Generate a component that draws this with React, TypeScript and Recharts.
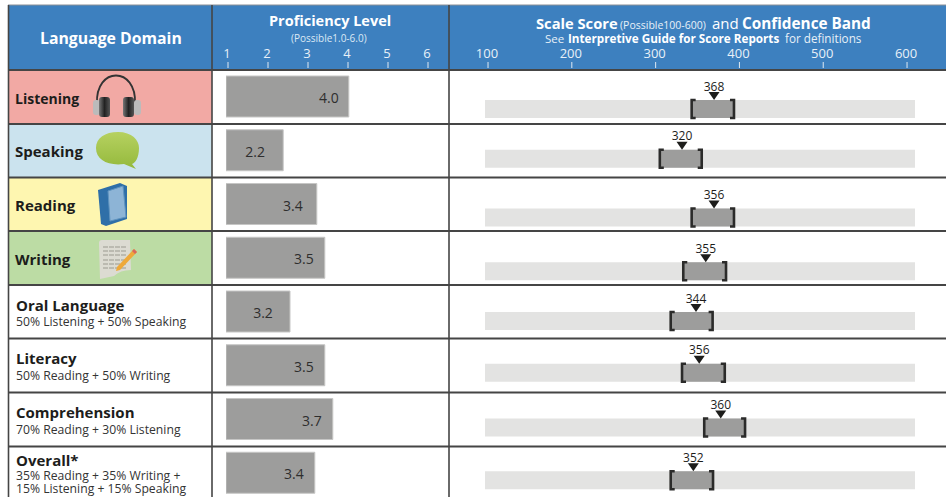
import React from "react";
import { BarChart, Bar, XAxis, YAxis, LabelList } from "recharts";

const domains = ["Listening", "Speaking", "Reading", "Writing", "Oral Language", "Literacy", "Comprehension", "Overall*"];
// printed numbers
const levelLabels = ["4.0", "2.2", "3.4", "3.5", "3.2", "3.5", "3.7", "3.4"];
const scoreLabels = [368, 320, 356, 355, 344, 356, 360, 352];
// where the marks actually sit on the axes (they don't always agree with the print)
const levelBars = [4.02, 2.38, 3.22, 3.42, 2.55, 3.42, 3.62, 3.17];
const scoreMarks = [369.7, 331.5, 369.7, 359.8, 348.2, 352, 377.7, 345];
const bandLow = [343, 305, 343, 333, 318, 331.5, 358, 318];
const bandHigh = [393.5, 355, 393.5, 384, 368, 382.5, 406.7, 368.5];

const levelTicks = [1, 2, 3, 4, 5, 6];
const scoreTicks = [100, 200, 300, 400, 500, 600];
const levelDomain = [0.95, 6];
const scoreDomain = [96.4, 609.5];

const rows = domains.map((domain, i) => ({
  domain,
  level: levelBars[i],
  levelLabel: levelLabels[i],
  track: scoreDomain,
  band: [bandLow[i], bandHigh[i]],
  mark: scoreMarks[i],
  score: scoreLabels[i],
}));

const COLORS = {
  header: "#3d80bf",
  rule: "#454545",
  bar: "#9d9d9c",
  track: "#e3e3e2",
  ink: "#1d1d1b",
};
const FONT = "'Open Sans', sans-serif";

// the score strip sits low in its row, by a slightly different amount each time
const TRACK_NUDGE = [12, 8, 13, 13, 9, 7, 8, 7];
// distance of the printed level from the end of its bar
const LABEL_INSET = [20, 28, 24, 21, 27, 21, 21, 21];
const ROW_EDGES = [70, 124, 177.5, 231, 285, 338.5, 392.5, 446.5];
const ROW_FILLS = ["#f2a9a4", "#cbe3ee", "#fef6b0", "#bcdca4"];

function AxisTick({ x, payload }: any) {
  return (
    <g>
      <text x={x - 1} y={58} textAnchor="middle" fill="#e8f0f8" fontSize={13} fontFamily={FONT}>
        {payload.value}
      </text>
      <line x1={x} x2={x} y1={62} y2={68} stroke="#dfe9f3" strokeWidth={1} />
    </g>
  );
}

function LevelLabel({ x, y, width, height, index, value }: any) {
  return (
    <text
      x={x + width - LABEL_INSET[index]}
      y={y + height / 2 + 6.5}
      textAnchor="middle"
      fontSize={14}
      fontFamily={FONT}
      fill="#2e2e2e"
    >
      {value}
    </text>
  );
}

function TrackShape({ x, y, width, height, index }: any) {
  return <rect x={x} y={y + TRACK_NUDGE[index]} width={width} height={height} fill={COLORS.track} />;
}

function BandShape({ x, y, width, height, index }: any) {
  const top = y + TRACK_NUDGE[index];
  const bottom = top + height;
  const right = x + width;
  return (
    <g>
      <rect x={x} y={top} width={width} height={height} fill={COLORS.bar} />
      <path
        d={`M${x + 4} ${top}H${x}V${bottom}H${x + 4}M${right - 4} ${top}H${right}V${bottom}H${right - 4}`}
        fill="none"
        stroke="#2b2b2a"
        strokeWidth={2.6}
      />
    </g>
  );
}

function MarkerShape({ x, y, width, height, index, payload }: any) {
  const tip = x + width;
  const top = y + TRACK_NUDGE[index] + (height - 18) / 2;
  return (
    <g>
      <polygon points={`${tip - 5.5},${top - 8} ${tip + 5.5},${top - 8} ${tip},${top}`} fill="#1d1d1b" />
      <text x={tip} y={top - 9.5} textAnchor="middle" fontSize={12} fontFamily={FONT} fill={COLORS.ink}>
        {payload.score}
      </text>
    </g>
  );
}

function Txt({ x, y, size, bold, color, children }: any) {
  return (
    <text x={x} y={y} fontSize={size} fontWeight={bold ? 700 : 400} fontFamily={FONT} fill={color || COLORS.ink}>
      {children}
    </text>
  );
}

function Table() {
  return (
    <svg width={946} height={497} style={{ position: "absolute", left: 0, top: 0 }}>
      <defs>
        <linearGradient id="cup" x1="0" y1="0" x2="1" y2="0">
          <stop offset="0%" stopColor="#777" />
          <stop offset="50%" stopColor="#222" />
          <stop offset="100%" stopColor="#555" />
        </linearGradient>
        <linearGradient id="bubble" x1="0" y1="0" x2="0" y2="1">
          <stop offset="0%" stopColor="#b6d160" />
          <stop offset="100%" stopColor="#94b93c" />
        </linearGradient>
      </defs>
      <rect x={8} y={5} width={938} height={65} fill={COLORS.header} />
      {ROW_FILLS.map((fill, i) => (
        <rect key={fill} x={9} y={ROW_EDGES[i]} width={203} height={ROW_EDGES[i + 1] - ROW_EDGES[i]} fill={fill} />
      ))}
      <line x1={8} x2={946} y1={5} y2={5} stroke="#8a8f96" strokeWidth={1} />
      {ROW_EDGES.map((y) => (
        <line key={y} x1={8} x2={946} y1={y} y2={y} stroke={COLORS.rule} strokeWidth={1.8} />
      ))}
      <line x1={8.5} x2={8.5} y1={5} y2={497} stroke={COLORS.rule} strokeWidth={1.6} />
      <line x1={212} x2={212} y1={5} y2={497} stroke={COLORS.rule} strokeWidth={1.6} />
      <line x1={449} x2={449} y1={5} y2={497} stroke={COLORS.rule} strokeWidth={1.6} />

      <Txt x={40} y={44} size={15.8} bold color="#fff">Language Domain</Txt>
      <Txt x={269} y={26} size={14.5} bold color="#fff">Proficiency Level</Txt>
      <Txt x={291} y={42} size={10} color="#dce9f5">(Possible1.0-6.0)</Txt>

      <Txt x={536} y={29} size={14.7} bold color="#fff">Scale Score</Txt>
      <Txt x={620} y={29} size={10.5} color="#e8f0f8">(Possible100-600)</Txt>
      <Txt x={712} y={29} size={15} color="#fff">and</Txt>
      <Txt x={742} y={29} size={15.3} bold color="#fff">Confidence Band</Txt>
      <Txt x={545} y={43} size={11.5} color="#e8f0f8">See</Txt>
      <Txt x={568} y={43} size={11.7} bold color="#fff">Interpretive Guide for Score Reports</Txt>
      <Txt x={785} y={43} size={11.7} color="#e8f0f8">for definitions</Txt>

      <Txt x={15} y={104} size={14} bold>Listening</Txt>
      <Txt x={15} y={157} size={15} bold>Speaking</Txt>
      <Txt x={15} y={211} size={15} bold>Reading</Txt>
      <Txt x={15} y={265} size={15} bold>Writing</Txt>

      <Txt x={16} y={311} size={15} bold>Oral Language</Txt>
      <Txt x={16} y={326} size={12.2} color="#333">50% Listening + 50% Speaking</Txt>
      <Txt x={16} y={364} size={15} bold>Literacy</Txt>
      <Txt x={16} y={380} size={12.2} color="#333">50% Reading + 50% Writing</Txt>
      <Txt x={16} y={418} size={15} bold>Comprehension</Txt>
      <Txt x={16} y={434} size={12.2} color="#333">70% Reading + 30% Listening</Txt>
      <Txt x={16} y={466} size={15} bold>Overall*</Txt>
      <Txt x={16} y={480} size={12.2} color="#333">35% Reading + 35% Writing +</Txt>
      <Txt x={16} y={493} size={12.2} color="#333">15% Listening + 15% Speaking</Txt>

      {/* headphones */}
      <path d="M97 104C95 66 137 66 135 104" fill="none" stroke="#333" strokeWidth={1.8} />
      <rect x={93} y={100} width={7} height={15} rx={3} fill="#bbb" />
      <rect x={134} y={100} width={7} height={15} rx={3} fill="#bbb" />
      <rect x={99} y={97} width={11} height={20} rx={3} fill="url(#cup)" />
      <rect x={123} y={97} width={11} height={20} rx={3} fill="url(#cup)" />

      {/* speech bubble */}
      <path d="M118 132C132 132 139 140 139 148C139 158 135 163 132 164L136 169L124 164C108 166 96 160 96 148C96 138 105 132 118 132Z" fill="url(#bubble)" />

      {/* book */}
      <path d="M98 190L120 183L127 186L127 219L106 226L101 224Z" fill="#2f6fa8" />
      <path d="M108 191L123 186L126 217L110 221Z" fill="#8db4d6" stroke="#5f93bf" strokeWidth={1} />

      {/* paper and pencil */}
      <path d="M99 243Q99 240 102 240H130L131 270Q120 270 114 276L100 279Z" fill="#dcdbd2" />
      {[247, 251, 255, 260, 264, 268].map((ly) => (
        <line key={ly} x1={103} x2={126} y1={ly} y2={ly} stroke="#9b9a90" strokeWidth={1} strokeDasharray="5 1" />
      ))}
      <path d="M117 267L134 249L137 252L120 270L116 271Z" fill="#eea93a" />
      <path d="M132 251L134 249L137 252L135 254Z" fill="#d9685c" />
    </svg>
  );
}

function LevelChart() {
  return (
    <BarChart
      layout="vertical"
      width={946}
      height={500}
      data={rows}
      margin={{ top: 0, right: 518, left: 226, bottom: 0 }}
      style={{ position: "absolute", left: 0, top: 0 }}
    >
      <XAxis
        type="number"
        orientation="top"
        height={70}
        domain={levelDomain}
        ticks={levelTicks}
        tick={AxisTick}
        tickLine={false}
        axisLine={false}
        allowDataOverflow
      />
      <YAxis type="category" dataKey="domain" hide />
      <Bar dataKey="level" barSize={41} fill={COLORS.bar} stroke="#c6c6c5" strokeWidth={1} isAnimationActive={false}>
        <LabelList dataKey="levelLabel" content={LevelLabel} />
      </Bar>
    </BarChart>
  );
}

function ScoreChart() {
  return (
    <BarChart
      layout="vertical"
      width={946}
      height={500}
      data={rows}
      margin={{ top: 0, right: 31, left: 485, bottom: 0 }}
      style={{ position: "absolute", left: 0, top: 0 }}
    >
      <XAxis
        type="number"
        orientation="top"
        height={70}
        domain={scoreDomain}
        ticks={scoreTicks}
        tick={AxisTick}
        tickLine={false}
        axisLine={false}
        allowDataOverflow
      />
      <YAxis yAxisId="track" type="category" dataKey="domain" hide />
      <YAxis yAxisId="band" type="category" dataKey="domain" hide />
      <YAxis yAxisId="mark" type="category" dataKey="domain" hide />
      <Bar yAxisId="track" dataKey="track" barSize={18} shape={TrackShape} isAnimationActive={false} />
      <Bar yAxisId="band" dataKey="band" barSize={18} shape={BandShape} isAnimationActive={false} />
      <Bar yAxisId="mark" dataKey="mark" barSize={18} shape={MarkerShape} isAnimationActive={false} />
    </BarChart>
  );
}

export default function App() {
  return (
    <div style={{ position: "fixed", left: 0, top: 0, width: 946, height: 497, overflow: "hidden", background: "#fff" }}>
      <Table />
      <LevelChart />
      <ScoreChart />
    </div>
  );
}
